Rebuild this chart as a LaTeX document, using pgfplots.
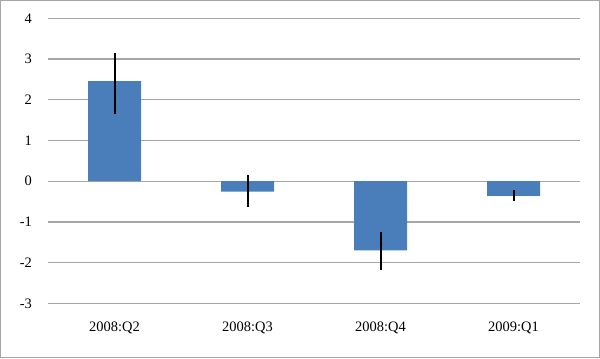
\documentclass[border=0pt]{standalone}
\usepackage{pgfplots}
\pgfplotsset{compat=1.18}
\usepackage{fontspec}
\setmainfont{Liberation Serif}
\definecolor{barblue}{HTML}{4A7EBB}
\definecolor{gridgray}{HTML}{A6A6A6}
\pgfplotstableread{
x y ep em
0 2.46 0.70 0.80
1 -0.26 0.42 0.37
2 -1.70 0.45 0.49
3 -0.36 0.14 0.12
}\datatable
\begin{document}
\begin{tikzpicture}[x=1bp,y=1bp]
\path[use as bounding box] (0,0) rectangle (600,358);
\draw[gray!70, line width=1bp] (0.5,0.5) rectangle (599.5,357.5);
\begin{axis}[
  at={(48bp,54.7bp)}, anchor=south west,
  scale only axis, width=532bp, height=285bp,
  xmin=-0.5, xmax=3.5, ymin=-3, ymax=4,
  axis line style={draw=none},
  major tick length=0pt,
  ytick={-3,-2,-1,0,1,2,3,4},
  xtick={0,1,2,3},
  xticklabels={2008:Q2,2008:Q3,2008:Q4,2009:Q1},
  ymajorgrids,
  grid style={gridgray, line width=1.3bp},
  /pgf/number format/assume math mode=true,
  tick label style={font=\fontsize{14.5}{16}\selectfont},
  yticklabel style={anchor=east, inner sep=0pt, xshift=-16bp},
  xticklabel style={anchor=north, inner sep=0pt, yshift=-18bp},
]
\addplot[ybar, bar width=53bp, fill=barblue, draw=none,
  error bars/.cd, y dir=both, y explicit,
  error bar style={black, line width=2bp}, error mark=none]
  table[x=x, y=y, y error plus=ep, y error minus=em] {\datatable};
\end{axis}
\end{tikzpicture}
\end{document}
